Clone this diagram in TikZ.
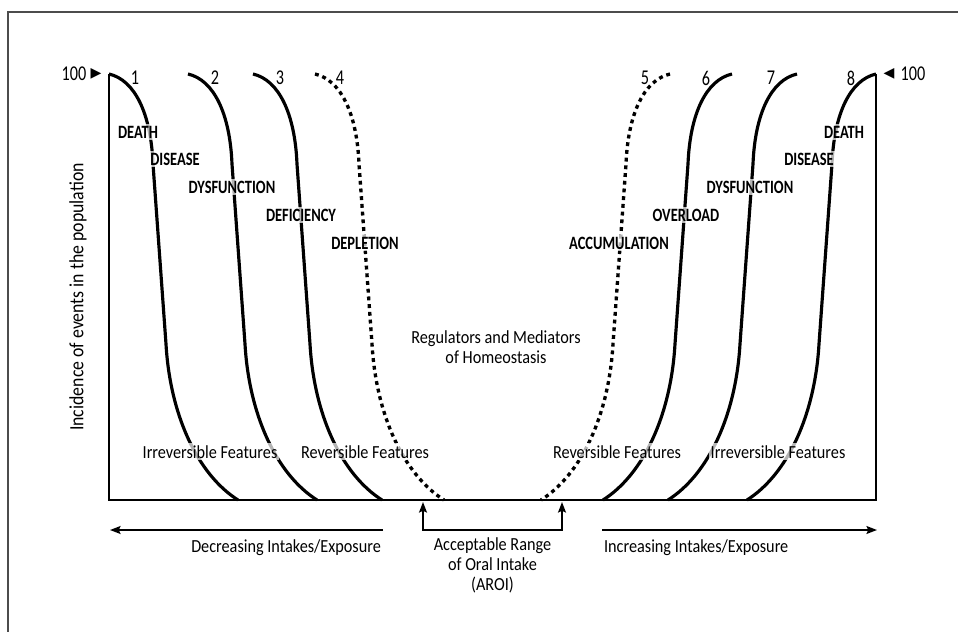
\documentclass[tikz,border=0pt]{standalone}
\usepackage{fontspec}
\setmainfont{Carlito}[FakeStretch=0.88]
\newfontfamily\narrowfont{Carlito}[FakeStretch=0.77]
\newfontfamily\markfont{DejaVu Sans}
\usetikzlibrary{arrows.meta,positioning}

\begin{document}
\begin{tikzpicture}[x=0.02cm, y=-0.02cm]
\tikzstyle{axis} = [draw, line width=1.2pt]
\tikzstyle{riskcurve} = [draw, line width=1.8pt]
\tikzstyle{dotcurve} = [draw, line width=1.9pt, dash pattern=on 2.2pt off 2.2pt]
\tikzstyle{effect} = [font=\narrowfont\fontsize{10.7}{12}\selectfont\bfseries, fill=white, fill opacity=0.7, text opacity=1, inner sep=1pt]
\tikzstyle{feature} = [font=\fontsize{10.5}{12}\selectfont, fill=white, fill opacity=0.7, text opacity=1, inner sep=1pt, anchor=base]
\tikzstyle{caption} = [font=\fontsize{10.5}{11.4}\selectfont, align=center, inner sep=1pt]
\tikzstyle{curvenum} = [font=\narrowfont\fontsize{12}{13}\selectfont, inner sep=0pt]
\tikzstyle{marker} = [font=\markfont\fontsize{8}{9}\selectfont, inner sep=0pt]
\tikzstyle{line} = [draw, -{Stealth[length=6pt, width=4.5pt, inset=1pt]}, line width=1pt]

\def\riskshape{(0,0) .. controls (26,6) and (42,40) .. (44,90) -- (57,270) .. controls (61,340) and (88,400) .. (129,426)}

\useasboundingbox (0,0) rectangle (958,632);

% Frame
\draw [black!70, line width=0.8pt] (8,640) -- (8,12) -- (966,12);

% Axes
\coordinate (topL) at (109,74);
\coordinate (botL) at (109,500);
\coordinate (botR) at (876,500);
\coordinate (topR) at (876,74);
\draw [axis] (topL) -- (botL) -- (botR) -- (topR);

\node [curvenum] (hundredL) at (74,74) {100};
\node [marker] (tipL) at (96,74) {▶};
\node [curvenum] (hundredR) at (913,74) {100};
\node [marker] (tipR) at (889,74) {◀};

\node [caption, font=\fontsize{11.5}{12}\selectfont, rotate=90] (yLabel) at (78,297) {Incidence of events in the population};

% Deficiency curves
\draw [riskcurve, shift={(109,74)}] \riskshape;
\draw [riskcurve, shift={(188,74)}] \riskshape;
\draw [riskcurve, shift={(253,74)}] \riskshape;
\draw [dotcurve, shift={(315,74)}] \riskshape;

% Excess curves
\draw [dotcurve, shift={(670,74)}, xscale=-1] \riskshape;
\draw [riskcurve, shift={(732,74)}, xscale=-1] \riskshape;
\draw [riskcurve, shift={(797,74)}, xscale=-1] \riskshape;
\draw [riskcurve, shift={(876,74)}, xscale=-1] \riskshape;

\node [curvenum] (num1) at (135,78) {1};
\node [curvenum] (num2) at (215,78) {2};
\node [curvenum] (num3) at (280,78) {3};
\node [curvenum] (num4) at (340,78) {4};
\node [curvenum] (num5) at (645,78) {5};
\node [curvenum] (num6) at (706,78) {6};
\node [curvenum] (num7) at (771,78) {7};
\node [curvenum] (num8) at (851,78) {8};

% Effect labels
\node [effect] (deathL) at (138,132) {DEATH};
\node [effect] (diseaseL) at (175,159) {DISEASE};
\node [effect] (dysfunctionL) at (232,187) {DYSFUNCTION};
\node [effect] (deficiency) at (301,215) {DEFICIENCY};
\node [effect] (depletion) at (365,243) {DEPLETION};

\node [effect] (deathR) at (844,132) {DEATH};
\node [effect] (diseaseR) at (809,159) {DISEASE};
\node [effect] (dysfunctionR) at (750,187) {DYSFUNCTION};
\node [effect] (overload) at (686,215) {OVERLOAD};
\node [effect] (accumulation) at (619,243) {ACCUMULATION};

\node [caption, anchor=north] (homeostasis) at (496,329) {Regulators and Mediators\\of Homeostasis};

\node [feature] (irrevL) at (210,458) {Irreversible Features};
\node [feature] (revL) at (365,458) {Reversible Features};
\node [feature] (revR) at (617,458) {Reversible Features};
\node [feature] (irrevR) at (778,458) {Irreversible Features};

% Intake arrows
\coordinate (decStart) at (383,530);
\coordinate (decEnd) at (110,530);
\coordinate (incStart) at (602,530);
\coordinate (incEnd) at (877,530);
\draw [line] (decStart) -- (decEnd);
\draw [line] (incStart) -- (incEnd);

\node [caption, anchor=base east] (decreasing) at (decStart |- 0,552) {Decreasing Intakes/Exposure};
\node [caption, anchor=base west] (increasing) at (incStart |- 0,552) {Increasing Intakes/Exposure};

% AROI bracket
\coordinate (aroiL) at (423,530);
\coordinate (aroiR) at (562,530);
\coordinate (aroiTopL) at (423,502);
\coordinate (aroiTopR) at (562,502);
\draw [line, {Stealth[length=6pt, width=4.5pt, inset=1pt]}-{Stealth[length=6pt, width=4.5pt, inset=1pt]}] (aroiTopL) -- (aroiL) -- (aroiR) -- (aroiTopR);

\node [caption, anchor=north] (aroi) at (492.5,536) {Acceptable Range\\of Oral Intake\\(AROI)};

\end{tikzpicture}
\end{document}
